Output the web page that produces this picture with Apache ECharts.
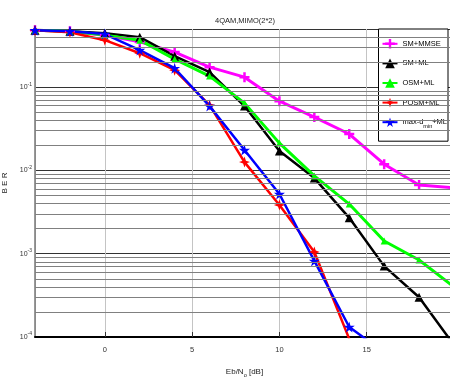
<!DOCTYPE html>
<html>
<head>
<meta charset="utf-8">
<script src="https://cdn.jsdelivr.net/npm/echarts@6/dist/echarts.min.js"></script>
<style>
  html, body { margin: 0; padding: 0; background: #fff; }
  #chart { width: 450px; height: 377px; }
</style>
</head>
<body>
<div id="chart"></div>
<script>
// Eb/N0 values (dB)
const snr = [-4, -2, 0, 2, 4, 6, 8, 10, 12, 14, 16, 18, 20];

// BER curves
const smMmse = [0.484, 0.47, 0.42, 0.35, 0.264, 0.174, 0.132, 0.068, 0.0438, 0.0274, 0.0119, 0.0067, 0.0062];
const smMl   = [0.484, 0.47, 0.446, 0.399, 0.236, 0.152, 0.0593, 0.0171, 0.0081, 0.0027, 0.00071, 0.0003, 0.00008];
const osmMl  = [0.484, 0.47, 0.422, 0.367, 0.217, 0.136, 0.0644, 0.0213, 0.0086, 0.00395, 0.00142, 0.00084, 0.0004];
const posmMl = [0.484, 0.458, 0.367, 0.256, 0.16, 0.061, 0.0126, 0.00385, 0.00105, 0.000095];
const maxdMl = [0.484, 0.47, 0.434, 0.279, 0.169, 0.0593, 0.0176, 0.00521, 0.00082, 0.000132, 0.000065];

const names = ['SM+MMSE', 'SM+ML', 'OSM+ML', 'POSM+ML', 'max-d_min+ML'];

// minor grid of the log axis (2..9 x 10^k)
const decades = [-4, -3, -2, -1];
const mantissas = [2, 3, 4, 5, 6, 7, 8, 9];

const font = "'Liberation Sans', Arial, sans-serif";

function pairs(ys) {
  return ys.map((y, i) => [snr[i], y]);
}

const minorLines = [];
decades.forEach(d => {
  mantissas.forEach(m => {
    const v = m * Math.pow(10, d);
    if (v < 0.5) minorLines.push({ yAxis: v });
  });
});

const plus = 'path://M3,0H5V3H8V5H5V8H3V5H0V3H3Z';
const spark = 'path://M5,0L6.3,3.7L10,5L6.3,6.3L5,10L3.7,6.3L0,5L3.7,3.7Z';
const star = 'path://M50,0L61,35L98,35L68,57L79,91L50,70L21,91L32,57L2,35L39,35Z';

const chart = echarts.init(document.getElementById('chart'));

function curve(name, ys, color, symbol, size, width) {
  return {
    name: name,
    type: 'line',
    data: pairs(ys),
    symbol: symbol,
    symbolSize: size,
    itemStyle: { color: color },
    lineStyle: { color: color, width: width },
    clip: true
  };
}

chart.setOption({
  animation: false,
  textStyle: { fontFamily: font },
  title: {
    text: '4QAM,MIMO(2*2)',
    left: 210,
    top: 12,
    textStyle: { fontSize: 7.5, fontWeight: 'normal', color: '#222', fontFamily: font }
  },
  grid: { left: 35, top: 29, right: -4, bottom: 40, outerBoundsMode: 'none', containLabel: false },
  legend: {
    orient: 'vertical',
    right: 2,
    top: 29,
    backgroundColor: '#fff',
    borderColor: '#000',
    borderWidth: 1,
    padding: [10, 1, 12, 3],
    itemWidth: 15,
    itemHeight: 12,
    itemGap: 10,
    data: names,
    formatter: function (n) {
      return n === 'max-d_min+ML' ? 'max-d{sub|min}+ML' : n;
    },
    textStyle: {
      fontSize: 7.5,
      color: '#000',
      fontFamily: font,
      rich: {
        sub: { fontSize: 5.5, verticalAlign: 'bottom', padding: [8, 0, 0, 0], fontFamily: font }
      }
    }
  },
  xAxis: {
    type: 'value',
    min: -4,
    max: 20,
    splitNumber: 5,
    name: 'Eb/N{sub|o} [dB]',
    nameLocation: 'middle',
    nameGap: 29,
    nameTextStyle: {
      fontSize: 8,
      color: '#222',
      fontFamily: font,
      rich: { sub: { fontSize: 5.5, verticalAlign: 'bottom', padding: [6, 0, 0, 0], fontFamily: font } }
    },
    axisLine: { onZero: false, lineStyle: { color: '#000', width: 2 } },
    axisTick: { inside: true, length: 5, lineStyle: { color: '#333' } },
    axisLabel: {
      fontSize: 7.5,
      color: '#333',
      margin: 9,
      showMinLabel: false,
      showMaxLabel: false,
      formatter: function (v) { return v % 5 === 0 ? String(v) : ''; }
    },
    splitLine: { show: true, lineStyle: { color: '#c4c4c4', width: 1 } }
  },
  yAxis: {
    type: 'log',
    logBase: 10,
    min: 0.0001,
    max: 0.5,
    name: 'B E R',
    nameLocation: 'middle',
    nameRotate: 90,
    nameGap: 13,
    nameTextStyle: { fontSize: 8, color: '#222', fontFamily: font },
    axisLine: { show: true, onZero: false, lineStyle: { color: '#777', width: 1.5 } },
    axisTick: { show: false },
    axisLabel: {
      fontSize: 7,
      color: '#333',
      margin: 3,
      showMaxLabel: false,
      formatter: function (v) {
        const e = Math.log10(v);
        if (Math.abs(e - Math.round(e)) > 1e-6) return '';
        return '10{sup|' + Math.round(e) + '}';
      },
      rich: { sup: { fontSize: 5, verticalAlign: 'top', padding: [0, 0, 6, 0], fontFamily: font } }
    },
    splitLine: { show: true, lineStyle: { color: '#333', width: 1 } }
  },
  series: [
    {
      name: 'grid-minor',
      type: 'line',
      data: [],
      silent: true,
      z: 1,
      markLine: {
        silent: true,
        precision: 10,
        symbol: ['none', 'none'],
        label: { show: false },
        animation: false,
        lineStyle: { color: '#808080', width: 1, type: 'solid' },
        data: minorLines
      }
    },
    curve(names[0], smMmse, '#ff00ff', plus, 10, 3),
    curve(names[1], smMl, '#000000', 'triangle', 9, 2.5),
    curve(names[2], osmMl, '#00ff00', 'triangle', 7, 3),
    curve(names[3], posmMl, '#ff0000', spark, 11, 2.5),
    curve(names[4], maxdMl, '#0000ff', star, 11, 2.5)
  ]
});
</script>
</body>
</html>
